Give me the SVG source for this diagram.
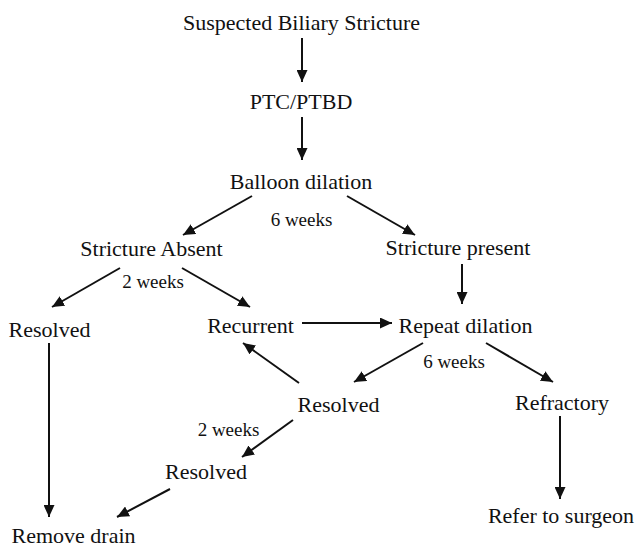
<svg xmlns="http://www.w3.org/2000/svg" width="636" height="547" viewBox="0 0 636 547">
<style>
.t{font-size:22px;fill:#111;text-anchor:middle}
.w{font-size:19px;fill:#111;text-anchor:middle}
.c line{stroke:#111;stroke-width:2;marker-end:url(#ah)}
</style>
<defs>
<marker id="ah" markerUnits="userSpaceOnUse" markerWidth="13" markerHeight="11" refX="12" refY="5.5" orient="auto">
<path d="M0,0 L12,5.5 L0,11 z" fill="#111"/>
</marker>
</defs>
<rect width="636" height="547" fill="#fff"/>
<g class="c" id="connectors">
<line x1="302" y1="38" x2="302" y2="82"/>
<line x1="302" y1="117" x2="302" y2="160"/>
<line x1="252" y1="196" x2="183" y2="235"/>
<line x1="347" y1="196" x2="415" y2="235"/>
<line x1="120" y1="268" x2="52" y2="307"/>
<line x1="182" y1="268" x2="250" y2="307"/>
<line x1="462" y1="264" x2="462" y2="304"/>
<line x1="302" y1="323" x2="392" y2="323"/>
<line x1="49" y1="343" x2="49" y2="517"/>
<line x1="423" y1="343" x2="354" y2="382"/>
<line x1="486" y1="343" x2="553" y2="382"/>
<line x1="299" y1="383" x2="243" y2="343"/>
<line x1="293" y1="420" x2="242" y2="457"/>
<line x1="170" y1="489" x2="117" y2="517"/>
<line x1="560" y1="416" x2="560" y2="499"/>
</g>
<g font-family="Liberation Serif, Times New Roman, Times, serif">
<g id="n-suspected"><text class="t" x="301.5" y="30">Suspected Biliary Stricture</text></g>
<g id="n-ptc"><text class="t" x="301" y="109">PTC/PTBD</text></g>
<g id="n-balloon"><text class="t" x="301" y="189">Balloon dilation</text></g>
<g id="l-6w-1"><text class="w" x="301.5" y="226">6 weeks</text></g>
<g id="n-absent"><text class="t" x="151.5" y="256">Stricture Absent</text></g>
<g id="n-present"><text class="t" x="458" y="255">Stricture present</text></g>
<g id="l-2w-1"><text class="w" x="153" y="288">2 weeks</text></g>
<g id="n-resolved1"><text class="t" x="49.5" y="337">Resolved</text></g>
<g id="n-recurrent"><text class="t" x="250.5" y="333">Recurrent</text></g>
<g id="n-repeat"><text class="t" x="465.5" y="333">Repeat dilation</text></g>
<g id="l-6w-2"><text class="w" x="454" y="368">6 weeks</text></g>
<g id="n-resolved2"><text class="t" x="338.5" y="412">Resolved</text></g>
<g id="n-refractory"><text class="t" x="562" y="410">Refractory</text></g>
<g id="l-2w-2"><text class="w" x="228.5" y="436">2 weeks</text></g>
<g id="n-resolved3"><text class="t" x="206" y="479">Resolved</text></g>
<g id="n-remove"><text class="t" x="73.5" y="543">Remove drain</text></g>
<g id="n-refer"><text class="t" x="561" y="523">Refer to surgeon</text></g>
</g>
</svg>
